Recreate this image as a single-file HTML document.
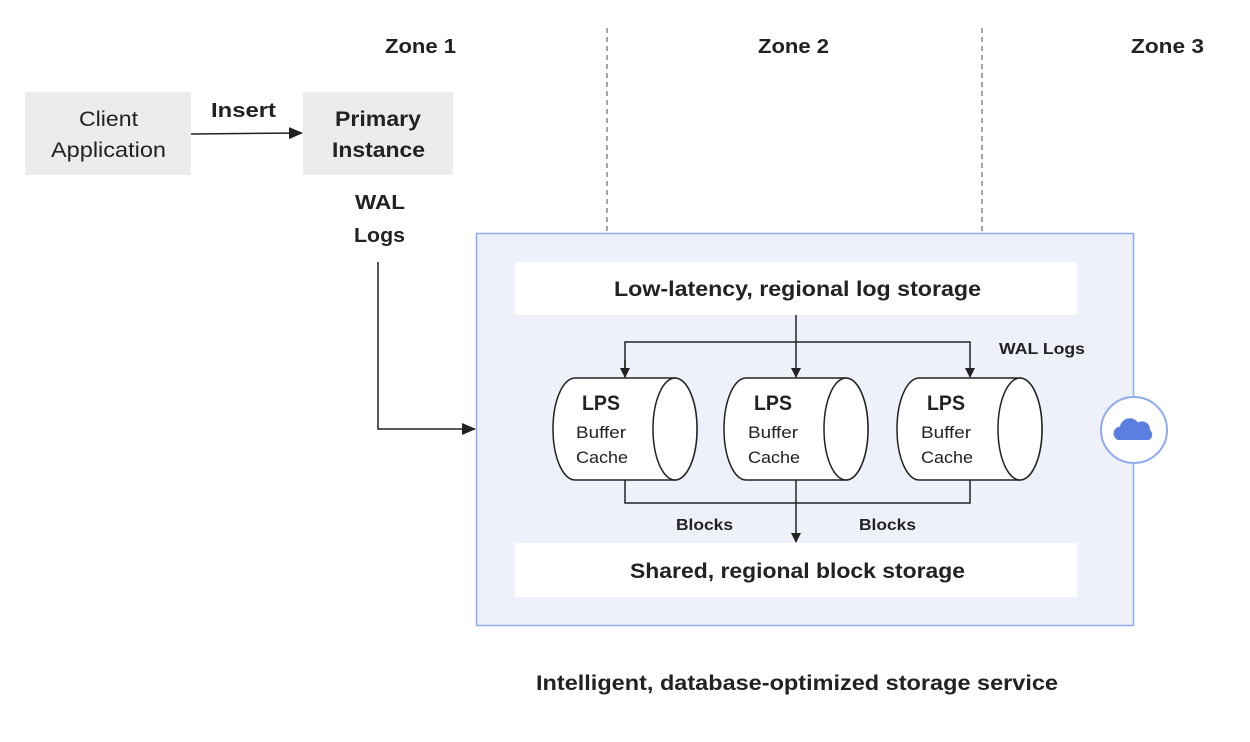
<!DOCTYPE html>
<html><head><meta charset="utf-8"><style>
body{margin:0;background:#fff}
svg{display:block}
text{font-family:"Liberation Sans",sans-serif;fill:#222}
</style></head><body>
<svg width="1250" height="742" viewBox="0 0 1250 742">
<defs><marker id="a" markerWidth="10" markerHeight="10" refX="9" refY="5" orient="auto" markerUnits="userSpaceOnUse"><path d="M0,0 L10,5 L0,10 Z" fill="#222"/></marker>
<marker id="b" markerWidth="14" markerHeight="12" refX="13" refY="6" orient="auto" markerUnits="userSpaceOnUse"><path d="M0,0 L14,6 L0,12 Z" fill="#222"/></marker></defs>
<g lengthAdjust="spacingAndGlyphs">
<text x="385" y="53" font-size="20" font-weight="bold" textLength="71" lengthAdjust="spacingAndGlyphs">Zone 1</text>
<text x="758" y="53" font-size="20" font-weight="bold" textLength="71" lengthAdjust="spacingAndGlyphs">Zone 2</text>
<text x="1131" y="53" font-size="20" font-weight="bold" textLength="73" lengthAdjust="spacingAndGlyphs">Zone 3</text>
</g>
<line x1="607" y1="28" x2="607" y2="233" stroke="#777" stroke-dasharray="5,4" stroke-width="1.3"/>
<line x1="982" y1="28" x2="982" y2="233" stroke="#777" stroke-dasharray="5,4" stroke-width="1.3"/>
<rect x="25" y="92" width="166" height="83" fill="#ececec"/>
<text x="79" y="126" font-size="21" fill="#333" textLength="59" lengthAdjust="spacingAndGlyphs">Client</text>
<text x="51" y="157" font-size="21" fill="#333" textLength="115" lengthAdjust="spacingAndGlyphs">Application</text>
<rect x="303" y="92" width="150" height="83" fill="#ececec"/>
<text x="335" y="126" font-size="21" font-weight="bold" textLength="86" lengthAdjust="spacingAndGlyphs">Primary</text>
<text x="332" y="157" font-size="21" font-weight="bold" textLength="93" lengthAdjust="spacingAndGlyphs">Instance</text>
<text x="211" y="117" font-size="20" font-weight="bold" textLength="65" lengthAdjust="spacingAndGlyphs">Insert</text>
<line x1="191" y1="134" x2="302" y2="133" stroke="#222" stroke-width="1.5" marker-end="url(#b)"/>
<text x="355" y="209" font-size="20" font-weight="bold" textLength="50" lengthAdjust="spacingAndGlyphs">WAL</text>
<text x="354" y="242" font-size="20" font-weight="bold" textLength="51" lengthAdjust="spacingAndGlyphs">Logs</text>
<polyline points="378,262 378,429 475,429" fill="none" stroke="#222" stroke-width="1.5" marker-end="url(#b)"/>
<rect x="476.5" y="233.5" width="657" height="392" fill="#eef1fa" stroke="#8eaaf0" stroke-width="1.5"/>
<rect x="515" y="262" width="562" height="53" fill="#fff"/>
<text x="614" y="296" font-size="21" font-weight="bold" textLength="367" lengthAdjust="spacingAndGlyphs">Low-latency, regional log storage</text>
<rect x="515" y="543" width="562" height="54" fill="#fff"/>
<text x="630" y="578" font-size="21" font-weight="bold" textLength="335" lengthAdjust="spacingAndGlyphs">Shared, regional block storage</text>
<g stroke="#222" stroke-width="1.5" fill="none">
<line x1="796" y1="315" x2="796" y2="377" marker-end="url(#a)"/>
<polyline points="625,377 625,342 970,342 970,377" marker-end="url(#a)"/>
<line x1="625" y1="360" x2="625" y2="377" marker-end="url(#a)"/>
<polyline points="625,480 625,503 970,503 970,480"/>
<line x1="796" y1="480" x2="796" y2="542" marker-end="url(#a)"/>
</g>
<text x="999" y="354" font-size="16" font-weight="bold" textLength="86" lengthAdjust="spacingAndGlyphs">WAL Logs</text>
<text x="676" y="530" font-size="16" font-weight="bold" textLength="57" lengthAdjust="spacingAndGlyphs">Blocks</text>
<text x="859" y="530" font-size="16" font-weight="bold" textLength="57" lengthAdjust="spacingAndGlyphs">Blocks</text>
<g stroke="#222" stroke-width="1.5" fill="#fff">
<path d="M575,378 H675 A22 51 0 0 1 675 480 H575 A22 51 0 0 1 575 378 Z"/><ellipse cx="675" cy="429" rx="22" ry="51"/>
<path d="M746,378 H846 A22 51 0 0 1 846 480 H746 A22 51 0 0 1 746 378 Z"/><ellipse cx="846" cy="429" rx="22" ry="51"/>
<path d="M919,378 H1020 A22 51 0 0 1 1020 480 H919 A22 51 0 0 1 919 378 Z"/><ellipse cx="1020" cy="429" rx="22" ry="51"/>
</g>
<g>
<text x="582" y="410" font-size="21" font-weight="bold" textLength="38" lengthAdjust="spacingAndGlyphs">LPS</text>
<text x="576" y="438" font-size="17" fill="#444" textLength="50" lengthAdjust="spacingAndGlyphs">Buffer</text>
<text x="576" y="463" font-size="17" fill="#444" textLength="52" lengthAdjust="spacingAndGlyphs">Cache</text>
<text x="754" y="410" font-size="21" font-weight="bold" textLength="38" lengthAdjust="spacingAndGlyphs">LPS</text>
<text x="748" y="438" font-size="17" fill="#444" textLength="50" lengthAdjust="spacingAndGlyphs">Buffer</text>
<text x="748" y="463" font-size="17" fill="#444" textLength="52" lengthAdjust="spacingAndGlyphs">Cache</text>
<text x="927" y="410" font-size="21" font-weight="bold" textLength="38" lengthAdjust="spacingAndGlyphs">LPS</text>
<text x="921" y="438" font-size="17" fill="#444" textLength="50" lengthAdjust="spacingAndGlyphs">Buffer</text>
<text x="921" y="463" font-size="17" fill="#444" textLength="52" lengthAdjust="spacingAndGlyphs">Cache</text>
</g>
<circle cx="1134" cy="430" r="33" fill="#fff" stroke="#8eaaf0" stroke-width="2"/>
<path d="M1118,440 a7,7 0 0 1 2,-13.5 a10,10 0 0 1 18,-4 a8,8 0 0 1 12,7.5 a6,6 0 0 1 -1,10 Z" fill="#5b7fe0"/>
<text x="536" y="690" font-size="21" font-weight="bold" textLength="522" lengthAdjust="spacingAndGlyphs">Intelligent, database-optimized storage service</text>
</svg>
</body></html>
